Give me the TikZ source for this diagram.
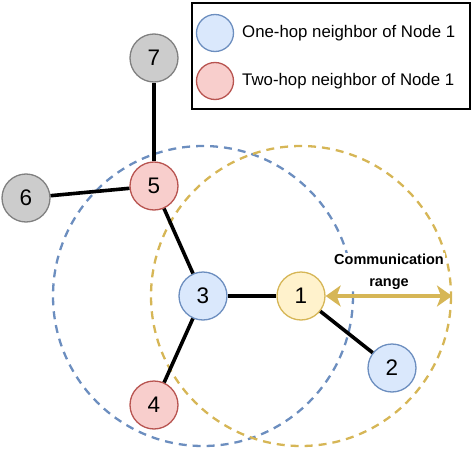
\documentclass[tikz,border=0pt]{standalone}
\usepackage{fontspec}
\setmainfont{Liberation Sans}
\usetikzlibrary{arrows.meta}
\definecolor{bfill}{HTML}{DAE8FC}\definecolor{bline}{HTML}{6C8EBF}
\definecolor{rfill}{HTML}{F8CECC}\definecolor{rline}{HTML}{B85450}
\definecolor{yfill}{HTML}{FFF2CC}\definecolor{yline}{HTML}{D6B656}
\definecolor{gfill}{HTML}{CCCCCC}\definecolor{gline}{HTML}{808080}
\tikzset{
  nd/.style={circle, minimum size=48pt, inner sep=0pt, line width=1.3pt, font=\fontsize{22.5}{22.5}\selectfont},
  onehop/.style={nd, fill=bfill, draw=bline},
  twohop/.style={nd, fill=rfill, draw=rline},
  srcnode/.style={nd, fill=yfill, draw=yline},
  other/.style={nd, fill=gfill, draw=gline},
  lgc/.style={circle, minimum size=37pt, inner sep=0pt, line width=1.3pt},
  link/.style={line width=3.6pt, black},
  rangecirc/.style={dash pattern=on 8pt off 6pt, line width=2.3pt},
  lgtext/.style={anchor=west, inner sep=0pt, font=\fontsize{16.8}{16.8}\selectfont}
}
\begin{document}
\begin{tikzpicture}[x=1pt,y=-1pt]
\useasboundingbox (0,0) rectangle (472,450);
% ranges
\draw[rangecirc, draw=bline] (203,296) circle (150);
\draw[rangecirc, draw=yline] (301,296) circle (150);
% legend
\node[draw=black, line width=1.6pt, minimum width=278pt, minimum height=106pt, anchor=north west, inner sep=0pt] (legend) at (191,2) {};
\node[lgc, fill=bfill, draw=bline] (l1) at (215,33) {};
\node[lgc, fill=rfill, draw=rline] (l2) at (215,81) {};
\node[lgtext] (t1) at (242,33) {One-hop neighbor of Node 1};
\node[lgtext] (t2) at (242,81) {Two-hop neighbor of Node 1};
% nodes
\node[other] (n7) at (154,58) {7};
\node[other] (n6) at (26,198) {6};
\node[twohop] (n5) at (154,186) {5};
\node[onehop] (n3) at (203,296) {3};
\node[srcnode] (n1) at (301,296) {1};
\node[onehop] (n2) at (392,368) {2};
\node[twohop] (n4) at (154,405) {4};
% links
\draw[link] (n5) -- (n7);
\draw[link] (n5) -- (n6);
\draw[link] (n5) -- (n3);
\draw[link] (n3) -- (n1);
\draw[link] (n3) -- (n4);
\draw[link] (n1) -- (n2);
% communication range
\coordinate (re) at (452,296);
\node[fill=white, inner sep=1pt, align=center, font=\bfseries\fontsize{14.5}{22}\selectfont] (lbl) at (389,272) {Communication\\range};
\draw[yline, line width=3.6pt, {Stealth[length=15pt,width=21pt,inset=4pt]}-{Stealth[length=15pt,width=21pt,inset=4pt]}] (n1) -- (re);
\end{tikzpicture}
\end{document}
